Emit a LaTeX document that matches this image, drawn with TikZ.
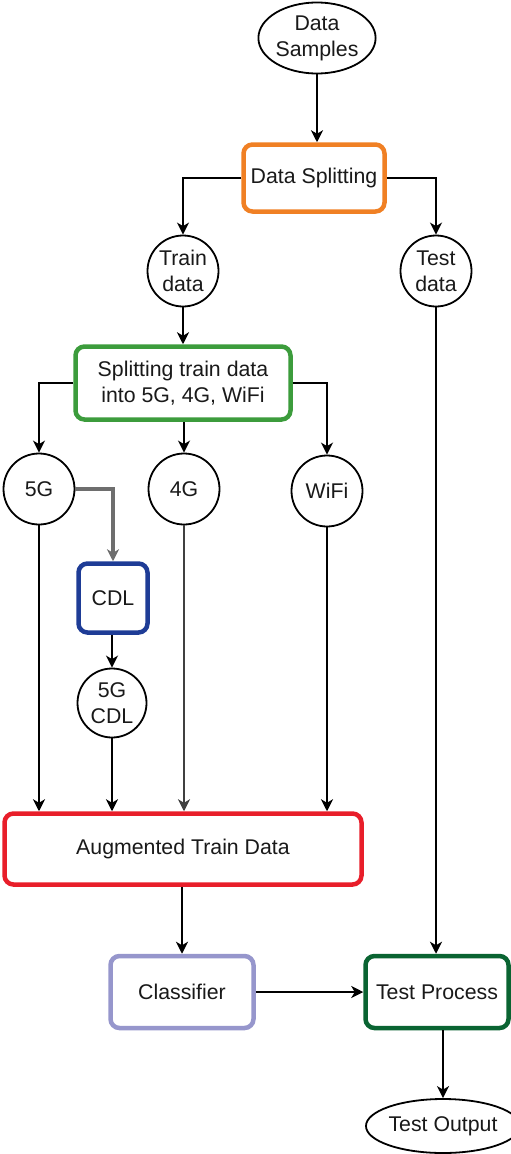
\documentclass[tikz,border=0pt]{standalone}
\usepackage{fontspec}
\setmainfont{Liberation Sans}
\usetikzlibrary{shapes.geometric,arrows.meta}
\definecolor{cOrange}{RGB}{240,128,36}
\definecolor{cGreen}{RGB}{60,156,60}
\definecolor{cBlue}{RGB}{30,60,150}
\definecolor{cRed}{RGB}{232,30,42}
\definecolor{cLav}{RGB}{150,150,204}
\definecolor{cDkGreen}{RGB}{10,100,50}
\definecolor{cGray}{RGB}{110,110,110}
\tikzset{
  every node/.style={font=\fontsize{21.3}{26}\selectfont, text=black!90, align=center, inner sep=0pt},
  procbox/.style={draw, rectangle, rounded corners=9pt, line width=4.5pt, fill=white},
  datacircle/.style={draw, circle, line width=1.8pt, minimum size=71pt, fill=white},
  dataellipse/.style={draw, ellipse, line width=1.8pt, fill=white},
  conn/.style={line width=2.2pt, draw=black, -{Stealth[length=12pt,width=12pt,inset=3.5pt]}},
  grayconn/.style={line width=3.2pt, draw=cGray, -{Stealth[length=12pt,width=12pt,inset=3.5pt]}},
}
\begin{document}
\begin{tikzpicture}[x=1pt,y=-1pt]
\useasboundingbox (0,0) rectangle (511,1154);
% nodes
\node[dataellipse, minimum width=104pt, minimum height=71pt] (samples) at (317,38) {Data\\Samples};
\node[procbox, draw=cOrange, minimum width=141pt, minimum height=67pt] (split) at (314,178) {Data Splitting};
\node[datacircle] (train) at (183,271) {Train\\data};
\node[datacircle] (test) at (436,271) {Test\\data};
\node[procbox, draw=cGreen, minimum width=215pt, minimum height=73pt] (split2) at (183,383) {Splitting train data\\into 5G, 4G, WiFi};
\node[datacircle] (g5) at (39,489) {5G};
\node[datacircle] (g4) at (184,489) {4G};
\node[datacircle] (wifi) at (327,491) {WiFi};
\node[procbox, draw=cBlue, minimum width=69pt, minimum height=69pt] (cdl) at (113,598) {CDL};
\node[datacircle, minimum size=69pt] (g5cdl) at (112,703) {5G\\CDL};
\node[procbox, draw=cRed, minimum width=357pt, minimum height=71pt] (aug) at (183,849) {Augmented Train Data};
\node[procbox, draw=cLav, minimum width=143pt, minimum height=72pt] (clf) at (182,992) {Classifier};
\node[procbox, draw=cDkGreen, minimum width=143pt, minimum height=72pt] (tp) at (437,992) {Test Process};
\node[dataellipse, minimum width=126pt, minimum height=54pt] (tout) at (443,1126) {Test Output};
% connectors
\draw[conn] (samples.south) -- (samples.south |- split.north);
\draw[conn] (split.west) -| (train.north);
\draw[conn] (split.east) -| (test.north);
\draw[conn] (train.south) -- (train.south |- split2.north);
\draw[conn] (split2.west) -| (g5.north);
\draw[conn] (split2.south -| g4.north) -- (g4.north);
\draw[conn] (split2.east) -| (wifi.north);
\draw[grayconn] (g5.east) -| (cdl.north);
\draw[conn] (cdl.south -| g5cdl.north) -- (g5cdl.north);
\draw[conn] (g5.south) -- (g5.south |- aug.north);
\draw[conn] (g5cdl.south) -- (g5cdl.south |- aug.north);
\draw[conn, draw=black!75] (g4.south) -- (g4.south |- aug.north);
\draw[conn] (wifi.south) -- (wifi.south |- aug.north);
\draw[conn] (aug.south -| clf.north) -- (clf.north);
\draw[conn] (test.south) -- (test.south |- tp.north);
\draw[conn] (clf.east) -- (tp.west);
\draw[conn] (tout.north |- tp.south) -- (tout.north);
\end{tikzpicture}
\end{document}
